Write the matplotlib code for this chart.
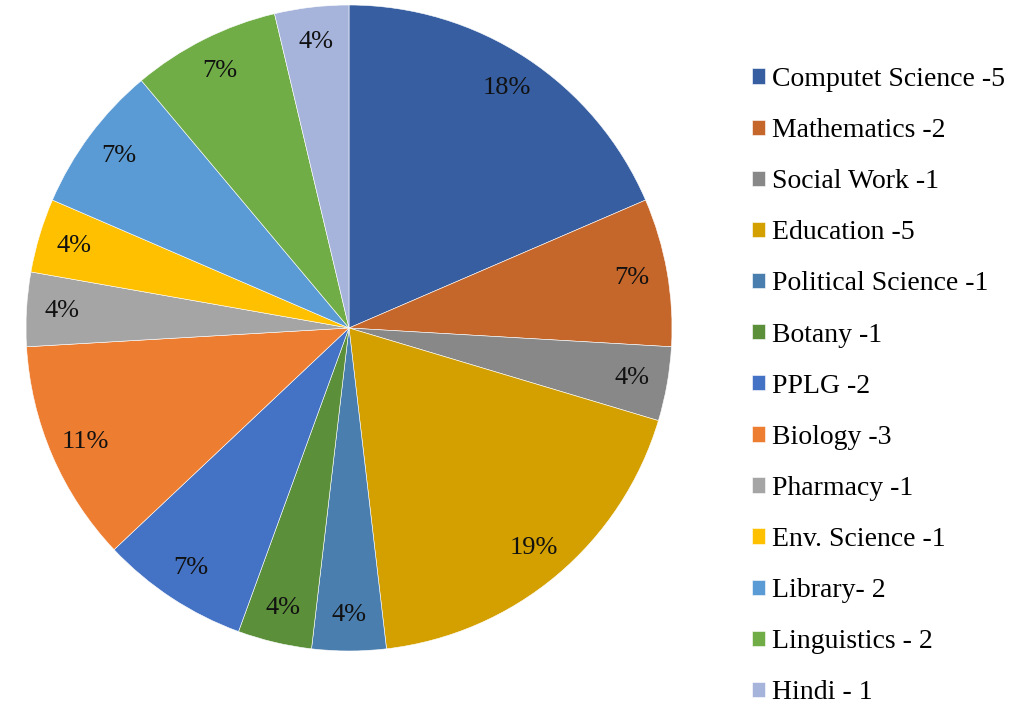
import numpy as np
import matplotlib.pyplot as plt

plt.rcParams['font.family'] = ['Liberation Serif', 'DejaVu Serif']

# subjects and number of respondents (legend text as in the source)
subjects = ['Computet Science -5', 'Mathematics -2', 'Social Work -1', 'Education -5',
            'Political Science -1', 'Botany -1', 'PPLG -2', 'Biology -3',
            'Pharmacy -1', 'Env. Science -1', 'Library- 2', 'Linguistics - 2', 'Hindi - 1']
counts = [5, 2, 1, 5, 1, 1, 2, 3, 1, 1, 2, 2, 1]
# percentage labels as printed on the chart
pct_labels = ['18%', '7%', '4%', '19%', '4%', '4%', '7%', '11%', '4%', '4%', '7%', '7%', '4%']

colors = ['#365EA0', '#C5662A', '#888888', '#D3A000', '#4A7EAE', '#5B8F3A', '#4472C4',
          '#ED7D31', '#A5A5A5', '#FFC000', '#5B9BD5', '#70AD47', '#A6B4DB']

fig = plt.figure(figsize=(10.12, 7.03), dpi=100)
# square axes so that the pie sits at the same spot as the original
ax = fig.add_axes([26 / 1012, 52 / 703, 646 / 1012, 646 / 703])

wedges, _ = ax.pie(counts, colors=colors, startangle=90, counterclock=False,
                   radius=1.0, wedgeprops=dict(edgecolor='white', linewidth=0.4))
ax.set_xlim(-1, 1)
ax.set_ylim(-1, 1)
ax.set_aspect('equal')
ax.axis('off')

for w, lab in zip(wedges, pct_labels):
    ang = np.deg2rad((w.theta1 + w.theta2) / 2)
    ax.text(0.89 * np.cos(ang), 0.89 * np.sin(ang), lab, ha='center', va='center',
            fontsize=19, color='#111111')

fig.legend(wedges, subjects, loc='upper left', bbox_to_anchor=(752 / 1012, 1 - 67 / 703),
           frameon=False, fontsize=20, handlelength=0.47, handleheight=0.47,
           handletextpad=0.25, labelspacing=0.94, borderpad=0, borderaxespad=0)

fig.savefig('out.png', dpi=100, facecolor='white')
